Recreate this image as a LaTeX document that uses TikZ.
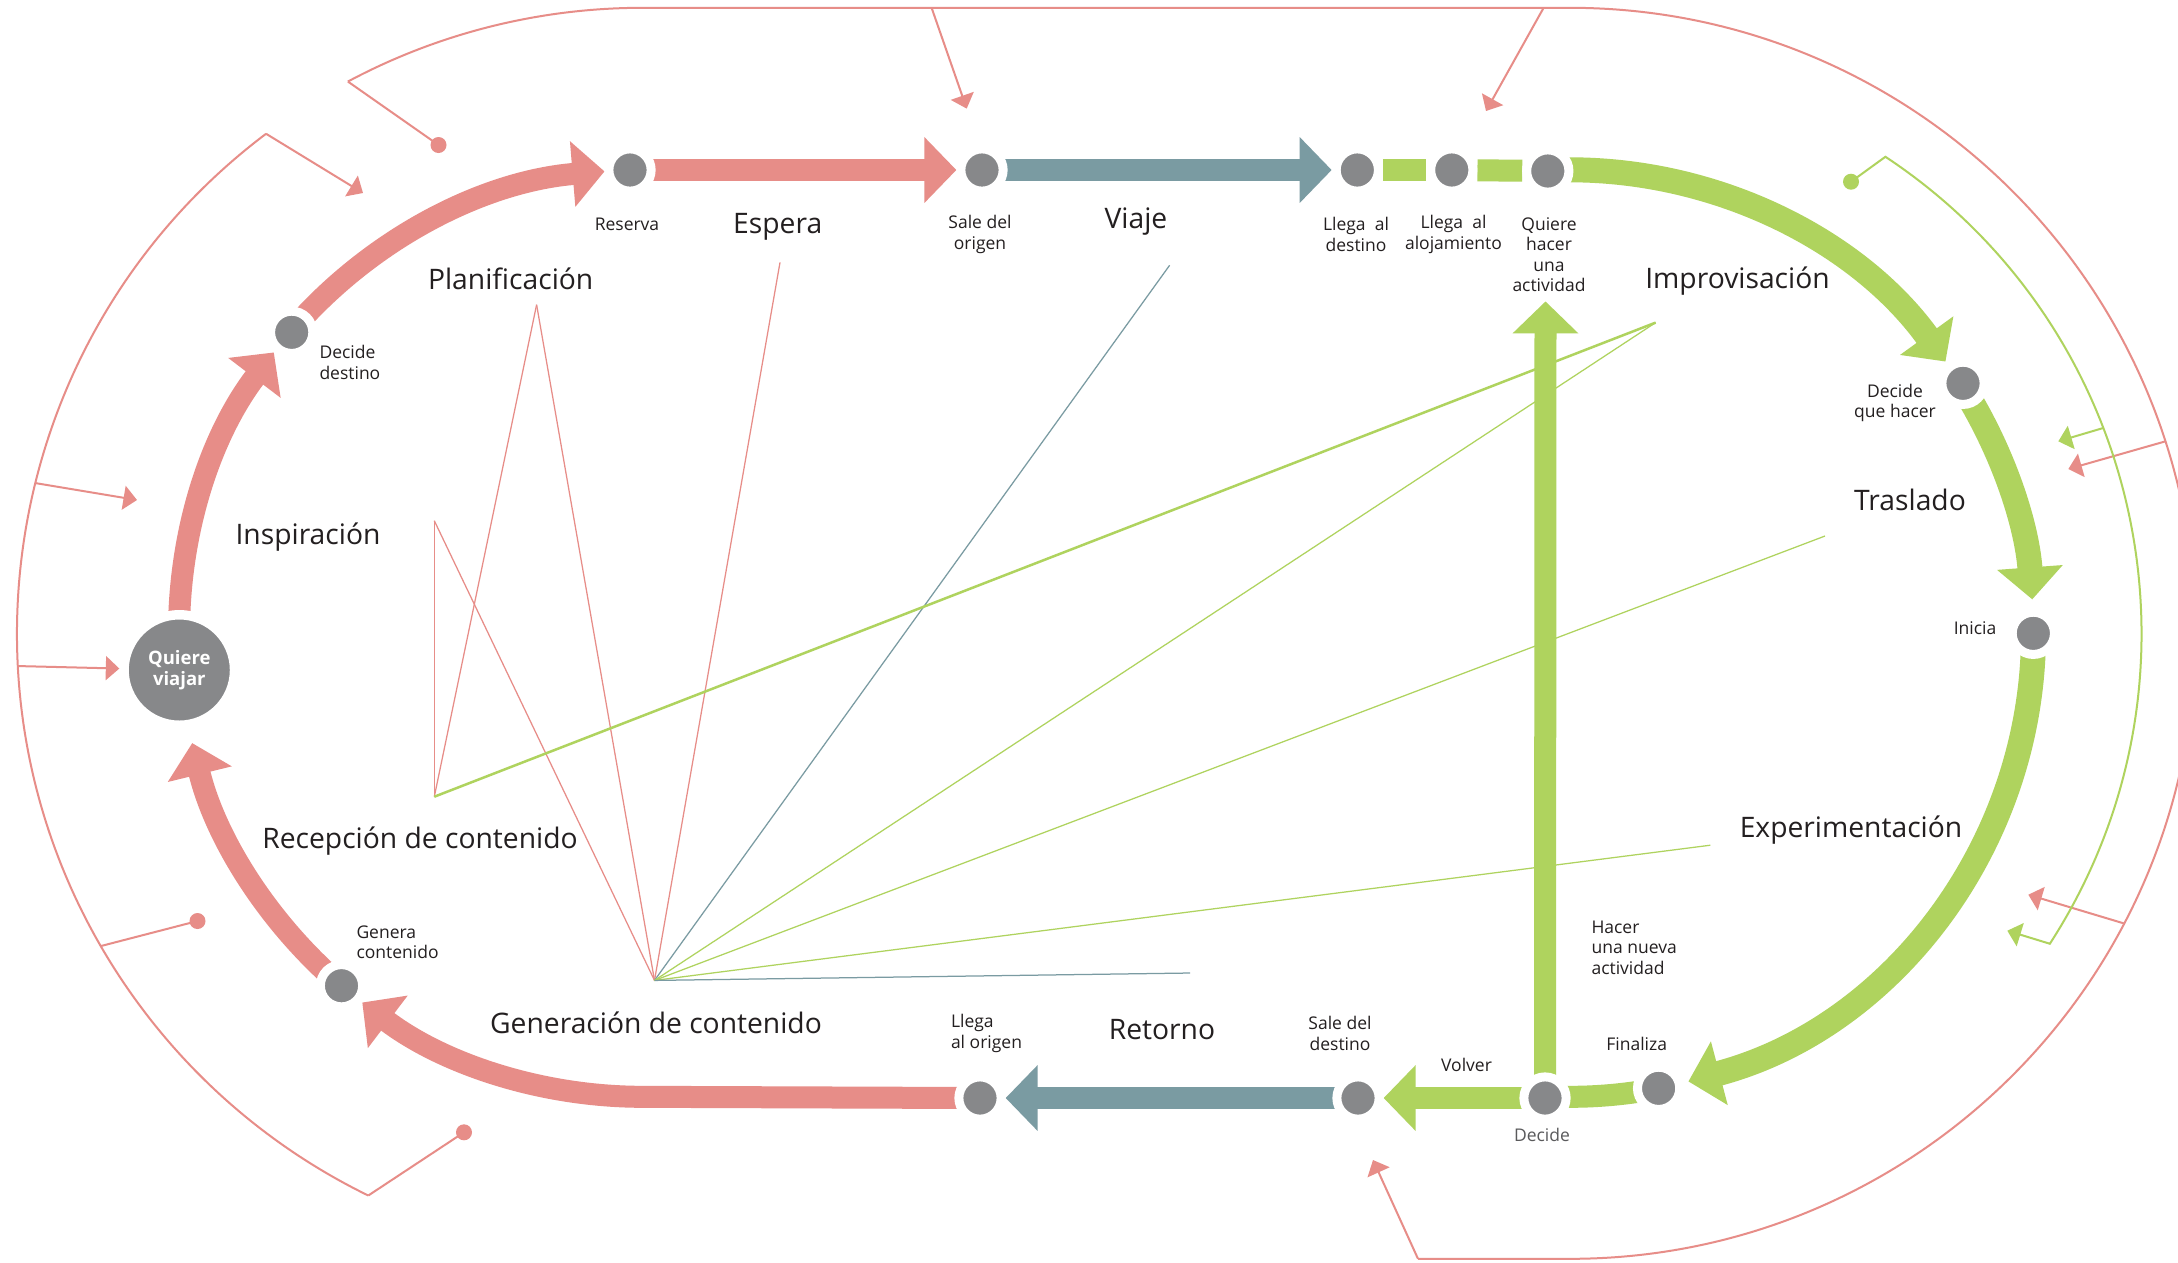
\documentclass[tikz,border=0pt]{standalone}
\usepackage{fontspec}
\setmainfont{Open Sans}
\usetikzlibrary{arrows.meta,calc}
\definecolor{pk}{RGB}{231,141,136}
\definecolor{tl}{RGB}{122,155,162}
\definecolor{gr}{RGB}{175,211,94}
\definecolor{nd}{RGB}{135,136,138}
\definecolor{tx}{RGB}{35,31,32}
\definecolor{txg}{RGB}{90,90,92}
\pgfdeclarelayer{back}
\pgfdeclarelayer{bg}
\pgfsetlayers{back,bg,main}
\begin{document}
\begin{tikzpicture}[x=0.4pt,y=-0.4pt,
  stopnode/.style={circle,fill=nd,draw=white,line width=3.6pt,minimum size=16.9pt,inner sep=0pt},
  bigstop/.style={circle,fill=nd,draw=white,line width=3.8pt,minimum size=44.2pt,inner sep=0pt,text=white,font=\bfseries\fontsize{7.4}{8.6}\selectfont,align=center},
  band/.style={line width=8.8pt},
  wideband/.style={line width=10pt},
  bandtip/.style={-{Triangle[width=25.6pt,length=12.8pt]}},
  outline/.style={line width=0.8pt},
  thintip/.style={-{Triangle[width=9.6pt,length=5.4pt]}},
  ray/.style={line width=0.5pt},
  pkdot/.style={circle,fill=pk,minimum size=6.4pt,inner sep=0pt},
  grdot/.style={circle,fill=gr,minimum size=6.4pt,inner sep=0pt},
  lbl/.style={text=tx,font=\fontsize{7}{8.2}\selectfont,align=center,inner sep=0pt},
  phase/.style={text=tx,font=\fontsize{11.3}{13}\selectfont,inner sep=0pt}
]
\useasboundingbox (0,0) rectangle (2178,1262);
\begin{pgfonlayer}{back}
\fill[white] (0,0) rectangle (2178,1262);
\end{pgfonlayer}

\coordinate (CL) at (642.5,633.3);
\coordinate (CR) at (1570,633.3);

% stops
\node[bigstop] (quiere) at (179.3,670) {Quiere\\viajar};
\node[stopnode] (decdest) at (291.7,332.3) {};
\node[stopnode] (reserva) at (630,170) {};
\node[stopnode] (saleorig) at (982,170) {};
\node[stopnode] (llegadest) at (1357.3,170) {};
\node[stopnode] (aloj) at (1451.8,170) {};
\node[stopnode] (quierehacer) at (1547.8,171) {};
\node[stopnode] (decqh) at (1963,383.3) {};
\node[stopnode] (inicia) at (2033.3,633.3) {};
\node[stopnode] (finaliza) at (1658.6,1088.3) {};
\node[stopnode] (decide) at (1545,1098) {};
\node[stopnode] (saledest) at (1358,1098) {};
\node[stopnode] (llegaorig) at (980,1098) {};
\node[stopnode] (genera) at (341.5,985.7) {};
\coordinate (nuevatip) at (1545.5,301.4);

\begin{pgfonlayer}{bg}
% main bands
\draw[band,pk,bandtip] ($(CL)+(175.5:463.5)$) arc (175.5:217.3:463.5);
\draw[band,pk,bandtip] ($(CL)+(220.6:463.5)$) arc (220.6:265.3:463.5);
\draw[band,pk,bandtip] (reserva.center) -- (saleorig);
\draw[band,tl,bandtip] (saleorig.center) -- (llegadest);
\draw[band,gr] (llegadest) -- (aloj);
\draw[band,gr] (aloj) -- (quierehacer);
\draw[wideband,gr,bandtip] (quierehacer.center) -- ($(CR)+(-90:463.5)$) arc (-90:-35.9:463.5);
\draw[wideband,gr,bandtip] ($(CR)+(-32.5:463.5)$) arc (-32.5:-4.2:463.5);
\draw[wideband,gr,bandtip] ($(CR)+(0:463.5)$) arc (0:75.2:463.5);
\draw[band,gr] ($(CR)+(79:463.5)$) arc (79:90:463.5) -- (decide.center);
\draw[band,gr,bandtip] (decide.center) -- (saledest);
\draw[band,tl,bandtip] (saledest.center) -- (llegaorig);
\draw[band,pk,bandtip] (llegaorig.center) -- ($(CL)+(90:463.5)$) arc (90:127.2:463.5);
\draw[band,pk,bandtip] ($(CL)+(130.5:463.5)$) arc (130.5:166.3:463.5);
\draw[band,gr,bandtip] (decide.center) -- (nuevatip);
\end{pgfonlayer}

% hub rays
\coordinate (hub) at (654.5,980.4);
\coordinate (pplan) at (536.6,304.7);
\coordinate (pinsp) at (434.3,520.7);
\coordinate (precep) at (434.3,796.7);
\coordinate (pesp) at (780,262.4);
\coordinate (pviaje) at (1169.6,265.3);
\coordinate (pimpro) at (1655.6,322.6);
\coordinate (ptras) at (1825,536);
\coordinate (pexp) at (1710.3,845.2);
\coordinate (pret) at (1190,973);
\draw[ray,pk] (pplan) -- (precep);
\draw[ray,pk] (pplan) -- (hub);
\draw[ray,pk] (pinsp) -- (precep);
\draw[ray,pk] (pinsp) -- (hub);
\draw[ray,pk] (pesp) -- (hub);
\draw[ray,tl] (pviaje) -- (hub);
\draw[line width=1pt,gr] (precep) -- (pimpro);
\draw[ray,gr] (pimpro) -- (hub);
\draw[ray,gr] (ptras) -- (hub);
\draw[ray,gr] (pexp) -- (hub);
\draw[ray,tl] (pret) -- (hub);

% outer pink loop
\draw[outline,pk] ($(CL)+(241.9:625.5)$) coordinate (oa) arc (241.9:270:625.5)
   -- ($(CR)+(270:625.5)$) arc (270:450:625.5) -- (1418,1258.8) coordinate (ob);
\draw[outline,pk] ($(CL)+(233:625.5)$) coordinate (oc) arc (233:116:625.5) coordinate (od);
\node[pkdot] (dot1) at (438.5,145) {};
\node[pkdot] (dot2) at (197.5,921) {};
\node[pkdot] (dot3) at (464,1132.3) {};
\coordinate (a1) at (363,193);
\coordinate (a2) at (137,500);
\coordinate (a3) at (966.7,108.6);
\coordinate (a4) at (1486,111);
\coordinate (a5) at (2068.3,469);
\coordinate (a6) at (2028.3,894.7);
\coordinate (a7) at (1373,1160);
\draw[outline,pk] (oa) -- (dot1.center);
\draw[outline,pk,thintip] (oc) -- (a1);
\draw[outline,pk,thintip] ($(CL)+(193.9:625.5)$) -- (a2);
\draw[outline,pk,thintip] ($(CL)+(177:625.5)$) -- (quiere);
\draw[outline,pk] ($(CL)+(150:625.5)$) -- (dot2.center);
\draw[outline,pk] (od) -- (dot3.center);
\draw[outline,pk,thintip] (931.6,7.8) -- (a3);
\draw[outline,pk,thintip] (1543.6,7.8) -- (a4);
\draw[outline,pk,thintip] ($(CR)+(-17.87:625.5)$) -- (a5);
\draw[outline,pk,thintip] ($(CR)+(27.64:625.5)$) -- (a6);
\draw[outline,pk,thintip] (ob) -- (a7);

% green loop
\node[grdot] (gdot) at (1851,181.7) {};
\coordinate (g1) at (2058.3,441.3);
\coordinate (g2) at (2007.3,930.7);
\draw[outline,gr,thintip] (gdot.center) -- ($(CR)+(-56.5:571.5)$) arc (-56.5:32.9:571.5) -- (g2);
\draw[outline,gr,thintip] ($(CR)+(-21.06:571.5)$) -- (g1);

% stop labels
\node[lbl] (l-reserva) at (627,224) {Reserva};
\node[lbl] (l-saleorig) at (980,234.3) {Sale del\\origen};
\node[lbl] (l-llegadest) at (1356,234.3) {Llega~ al\\destino};
\node[lbl] (l-aloj) at (1453.5,234.3) {Llega~ al\\alojamiento};
\node[lbl] (l-quierehacer) at (1549,254.5) {Quiere\\hacer\\una\\actividad};
\node[lbl] (l-decqh) at (1895,402.8) {Decide\\que hacer};
\node[lbl] (l-inicia) at (1975,628.3) {Inicia};
\node[lbl,align=left,anchor=west] (l-nueva) at (1591,947.5) {Hacer\\una nueva\\actividad};
\node[lbl] (l-finaliza) at (1636.7,1043.8) {Finaliza};
\node[lbl] (l-volver) at (1466.5,1065) {Volver};
\node[lbl,text=txg] (l-decide) at (1542,1135) {Decide};
\node[lbl] (l-saledest) at (1340,1033.6) {Sale del\\destino};
\node[lbl,align=left,anchor=west] (l-llegaorig) at (950.5,1033.5) {Llega\\al origen};
\node[lbl,align=left,anchor=west] (l-genera) at (356,942) {Genera\\contenido};
\node[lbl,align=left,anchor=west] (l-decdest) at (319,362.5) {Decide\\destino};

% phase labels
\node[phase] (f-plan) at (510.7,278.6) {Planificación};
\node[phase] (f-esp) at (777.7,227) {Espera};
\node[phase] (f-viaje) at (1136,221.8) {Viaje};
\node[phase] (f-impro) at (1737.5,280.7) {Improvisación};
\node[phase] (f-tras) at (1910,500) {Traslado};
\node[phase] (f-exp) at (1851,830) {Experimentación};
\node[phase] (f-ret) at (1162,1029.5) {Retorno};
\node[phase] (f-gen) at (656,1023) {Generación de contenido};
\node[phase] (f-recep) at (420,841) {Recepción de contenido};
\node[phase] (f-insp) at (308,536.7) {Inspiración};
\end{tikzpicture}
\end{document}
